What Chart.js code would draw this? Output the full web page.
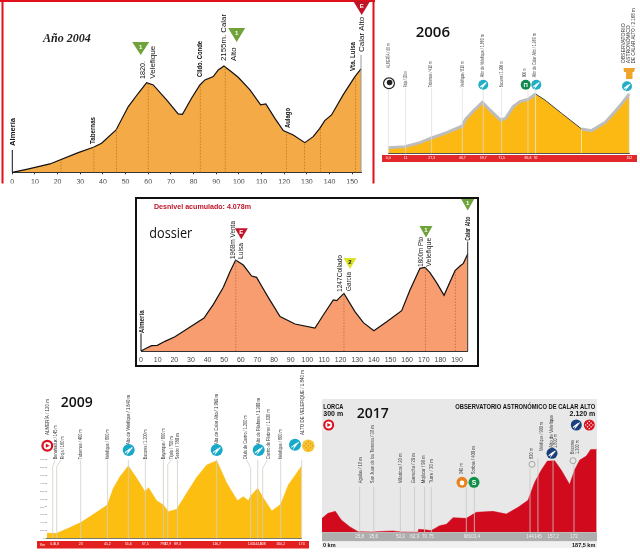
<!DOCTYPE html>
<html>
<head>
<meta charset="utf-8">
<title>Perfiles Calar Alto</title>
<script src="https://cdn.jsdelivr.net/npm/chart.js@4/dist/chart.umd.min.js"></script>
<style>
  html, body { margin: 0; padding: 0; background: #fff; }
  #page { position: relative; width: 640px; height: 554px; overflow: hidden; }
  #page canvas { position: absolute; left: 0; top: 0; }
</style>
</head>
<body>
<div id="page">
  <canvas id="c2004" width="640" height="554"></canvas>
  <canvas id="c2006" width="640" height="554"></canvas>
  <canvas id="cDossier" width="640" height="554"></canvas>
  <canvas id="c2009" width="640" height="554"></canvas>
  <canvas id="c2017" width="640" height="554"></canvas>
</div>
<script>
// profile values, km and metres
const km2004 = [0, 6.3, 16.6, 29.1, 35.8, 39.4, 45.8, 51.2, 55.6, 59.3, 62.2, 68.1, 73.2, 75.1, 79.1, 82.8, 85, 88.7, 90.9, 93.4, 96, 99.7, 104.9, 109.6, 111.9, 115.9, 119.6, 124, 129.1, 132.8, 135.7, 137.9, 140.9, 146, 151.2, 153.9];
const elev2004 = [0, 61, 170, 400, 509, 590, 861, 1336, 1607, 1824, 1776, 1471, 1187, 1180, 1505, 1776, 1878, 1946, 2081, 2163, 2068, 1932, 1675, 1370, 1390, 1098, 847, 759, 603, 725, 895, 1051, 1166, 1573, 1946, 2102];
const markKm2004 = [0, 21.5, 36, 46, 60, 83, 94, 121, 129, 136, 151.5, 153.9];
const markTop2004 = [454, 250, 510, 870, 1824, 1776, 2150, 800, 600, 900, 1950, 2386];

const km2006 = [0, 10.5, 20, 27.3, 36.8, 46.7, 48.7, 53.6, 59.3, 63, 70.8, 74, 78.8, 83, 88.3, 92.9, 98.8, 109.3, 121.9, 128.2, 136.6, 142.9, 148.2, 152];
const elev2006 = [204, 240, 384, 552, 744, 984, 1224, 1524, 1836, 1620, 1200, 1260, 1680, 1860, 1944, 2136, 1920, 1440, 876, 816, 1104, 1500, 1860, 2136];
const markKm2006 = [0, 10.9, 27.3, 46.7, 59.9, 71.5, 88.1, 92.9, 152];
const markTop2006 = [2340, 2340, 2340, 2340, 2340, 2340, 2340, 2340, 2160];
const markNames2006 = ["0,0", "11", "27,3", "46,7", "59,7", "71,5", "86,8", "92", "152"];

const kmDossier = [0, 3.4, 6.4, 9.8, 14.4, 20.4, 29.5, 37.9, 40.5, 43.5, 49.5, 53.5, 56.9, 61.5, 66.5, 69.5, 72.5, 76.5, 83.6, 92.6, 104.6, 109.6, 115.6, 117.6, 122, 128.6, 133.7, 140, 147.7, 156.7, 161.7, 167.7, 170.7, 173.7, 177.7, 182.2, 185.8, 188.8, 191.8, 193.8, 196.4];
const elevDossier = [0, 65, 115, 123, 209, 310, 519, 714, 851, 1009, 1377, 1716, 1968, 1860, 1622, 1593, 1406, 1161, 743, 584, 497, 779, 1103, 1089, 1247, 851, 613, 440, 634, 872, 1319, 1788, 1810, 1694, 1478, 1204, 1500, 1738, 1839, 1896, 2098];
const markKmDossier = [0, 57, 122, 171, 189, 196.4];
const markTopDossier = [382, 1960, 1247, 1810, 1738, 2365];

const km2009 = [0, 6.8, 14.8, 23.2, 33, 41.4, 45.5, 50, 55.7, 61.4, 67.1, 69.4, 75, 79.6, 83, 88.7, 95.5, 102.4, 109.2, 116, 122.9, 130.1, 134.2, 137.6, 139.2, 144, 147.9, 153.6, 159.7, 164.9, 174];
const elev2009 = [127, 127, 254, 399, 636, 848, 1272, 1569, 1840, 1526, 1187, 1289, 958, 848, 678, 738, 1145, 1552, 1866, 1976, 1399, 958, 1060, 958, 1077, 1272, 1018, 695, 865, 1357, 1840];
const markKm2009 = [4.1, 6.8, 23.2, 41.4, 55.7, 67.3, 79.6, 82.6, 89.2, 116, 139.2, 144, 147.4, 159.7, 174];
const markTop2009 = [1823, 1823, 2000, 2000, 2000, 2000, 2000, 1866, 2000, 2000, 1781, 2000, 1781, 2000, 2000];
const markNames2009 = ["0,0", "6,8", "23", "41,2", "55,6", "67,5", "79,7", "82,9", "89,3", "116,7", "140", "144,8", "148", "160,2", "174"];

const km2017 = [0, 4.1, 9.1, 13.2, 18.9, 24.6, 33.7, 42.8, 48.5, 54.1, 65.5, 66, 70, 74.6, 80.3, 84.9, 89.4, 98.5, 105.3, 116.7, 125.8, 133.8, 140.6, 145.1, 149.7, 153.8, 158.8, 163.3, 169, 172.4, 175.9, 180.4, 183.4, 187.5];
const elev2017 = [357, 485, 536, 315, 145, 17, 9, 26, 34, 9, 0, 77, 68, 43, 170, 204, 374, 357, 511, 536, 468, 638, 817, 1277, 1591, 1821, 1830, 1591, 1225, 1591, 1847, 1949, 2119, 2119];
const markKm2017 = [25.7, 35.3, 53.5, 63.2, 70, 74.6, 98.5, 104, 142, 147.4, 157.7, 172];
const markTop2017 = [1166, 1166, 1166, 1166, 1166, 1166, 1166, 1166, 1634, 1889, 1850, 1760];
const markNames2017 = ["25,8", "35,6", "53,3", "62,3", "70", "75", "98", "103,4", "144", "145", "157,2", "172"];

// rotated place names: text, x, bottom y, length on the page
const labels2004Bold = [
  ["Almería", 12.7, 146, 28], ["Tabernas", 92.5, 144, 27], ["Clldo. Conde", 199.3, 77, 36],
  ["Aulago", 288, 128, 20], ["Vta. Luisa", 353, 71, 29]
];
const labels2004 = [
  ["1820.", 142.7, 79, 18], ["Velefique", 152.7, 78.7, 35], ["2155m. Calar", 224, 61, 47],
  ["Alto", 234, 61, 14], ["Calar Alto", 362, 52, 38]
];
const labels2006 = [
  ["ALMERÍA / 60 m", 388.3, 68.3, 25], ["Rioja / 120 m", 405.7, 87.3, 16], ["Tabernas / 410 m", 431, 87.3, 26],
  ["Velefique / 810 m", 462.3, 87.3, 26], ["Alto de Velefique / 1.860 m", 482.3, 77.3, 43], ["Bacares / 1.200 m", 501.7, 87.3, 26],
  ["900 m", 524.3, 77.3, 9], ["Alto de Calar Alto / 1.960 m", 535, 77.3, 44]
];
const labels2006End = [
  ["OBSERVATORIO", 623.3, 63.3, 40], ["ASTRONÓMICO", 628.3, 63.3, 38], ["DE CALAR ALTO / 2.168 m", 633.3, 63.3, 55]
];
const labelsDossierBold = [["Almería", 142, 333.3, 23], ["Calar Alto", 468, 240.7, 24]];
const labelsDossier = [
  ["1968m Venta", 232.7, 259, 38], ["Luisa", 240.7, 259, 16], ["1247Collado", 340.3, 292, 37],
  ["García", 348.7, 291, 19], ["1800m Pto", 421, 266.7, 30], ["Velefique", 429, 266.7, 29]
];
const labels2009 = [
  ["ALMERÍA / 120 m", 47.3, 435, 36], ["Benahadux / 145 m", 56, 459.3, 34], ["Rioja / 160 m", 62.3, 459.3, 23],
  ["Tabernas / 400 m", 81, 459.3, 30], ["Velefique / 800 m", 107.7, 459.3, 30], ["Alto de Velefique / 1.840 m", 128.7, 445, 50],
  ["Bacares / 1.200 m", 145.3, 459.3, 30], ["Bayarque / 800 m", 163.3, 459.3, 31], ["Tíjola / 700 m", 171.3, 459.3, 23],
  ["Serón / 780 m", 177.3, 459.3, 26], ["Alto de Calar Alto / 1.960 m", 216.7, 445, 51], ["Olula de Castro / 1.200 m", 246, 459.3, 44],
  ["Alto de Filabres / 1.300 m", 258.7, 445, 47], ["Castro de Filabres / 1.020 m", 268.7, 459.3, 50], ["Velefique / 800 m", 280.7, 459.3, 30],
  ["ALTO DE VELEFIQUE / 1.840 m", 302.7, 435, 65]
];
const labels2017 = [
  ["Aguilas / 10 m", 360.3, 483.3, 26], ["San Juan de los Terreros / 30 m", 373, 483.3, 58], ["Villaricos / 20 m", 400.3, 483.3, 30],
  ["Garrucha / 20 m", 414, 483.3, 30], ["Mojácar / 90 m", 424, 483.3, 28], ["Turre / 30 m", 431.3, 483.3, 26],
  ["340 m", 462, 474.3, 11], ["Sorbas / 400 m", 474, 474.3, 28], ["820 m", 532, 459, 11],
  ["Velefique / 900 m", 542, 451, 29], ["Alto de Velefique", 551.3, 448, 33], ["1.800 m", 555.3, 448, 14],
  ["Bacares", 573, 454, 14], ["1.200 m", 577.3, 454, 14]
];

const NARROW = "'Liberation Sans Narrow', 'Liberation Sans', sans-serif";
const SANS = "'Liberation Sans', sans-serif";
const TITLE = "'Open Sans', sans-serif";

function upText(ctx, items, font, color) {
  ctx.font = font;
  ctx.fillStyle = color;
  ctx.textBaseline = "middle";
  ctx.textAlign = "left";
  items.forEach(function (l) {
    ctx.save();
    ctx.translate(l[1], l[2]);
    ctx.rotate(-Math.PI / 2);
    ctx.fillText(l[0], 0, 0, l[3]);
    ctx.restore();
  });
}

function flatText(ctx, text, x, y, font, color, align, maxWidth) {
  ctx.font = font;
  ctx.fillStyle = color;
  ctx.textAlign = align || "left";
  ctx.textBaseline = "alphabetic";
  if (maxWidth) ctx.fillText(text, x, y, maxWidth);
  else ctx.fillText(text, x, y);
}

function triangle(ctx, x, top, w, h, color, letter, letterColor) {
  ctx.fillStyle = color;
  ctx.beginPath();
  ctx.moveTo(x - w / 2, top);
  ctx.lineTo(x + w / 2, top);
  ctx.lineTo(x, top + h);
  ctx.closePath();
  ctx.fill();
  ctx.font = "bold 6px " + SANS;
  ctx.fillStyle = letterColor || "#fff";
  ctx.textAlign = "center";
  ctx.textBaseline = "middle";
  ctx.fillText(letter, x, top + h * 0.38);
}

function disc(ctx, x, y, r, color) {
  ctx.fillStyle = color;
  ctx.beginPath();
  ctx.arc(x, y, r, 0, Math.PI * 2);
  ctx.fill();
}

function climbIcon(ctx, x, y, r, color) {
  disc(ctx, x, y, r, color);
  ctx.strokeStyle = "#fff";
  ctx.lineWidth = 1.1;
  ctx.beginPath();
  ctx.moveTo(x - r * 0.6, y + r * 0.45);
  ctx.lineTo(x + r * 0.1, y - r * 0.1);
  ctx.lineTo(x - r * 0.1, y + r * 0.4);
  ctx.lineTo(x + r * 0.6, y - r * 0.45);
  ctx.stroke();
}

function startIcon(ctx, x, y, r, color) {
  disc(ctx, x, y, r, color);
  disc(ctx, x, y, r * 0.62, "#fff");
  ctx.fillStyle = color;
  ctx.beginPath();
  ctx.moveTo(x - r * 0.25, y - r * 0.35);
  ctx.lineTo(x + r * 0.4, y);
  ctx.lineTo(x - r * 0.25, y + r * 0.35);
  ctx.closePath();
  ctx.fill();
}

function checkerIcon(ctx, x, y, r, back, dot) {
  disc(ctx, x, y, r, back);
  ctx.fillStyle = dot;
  for (let i = -2; i <= 2; i++) {
    for (let j = -2; j <= 2; j++) {
      if ((i + j) % 2 === 0 && i * i + j * j < 6) {
        ctx.fillRect(x + i * r * 0.33 - 0.6, y + j * r * 0.33 - 0.6, 1.2, 1.2);
      }
    }
  }
}

// one line chart per profile, the canvases are stacked over the page
function profile(id, kms, elevs, cfg) {
  const area = cfg.area;
  const yWidth = cfg.yTicks ? 7 : 0;
  const axisH = cfg.axisH || 12;

  let xTicks = {
    font: cfg.tickFont,
    color: cfg.tickColor,
    padding: cfg.tickPadding === undefined ? 2 : cfg.tickPadding,
    autoSkip: false,
    maxRotation: 0,
    includeBounds: false
  };
  if (cfg.tickStep) xTicks.stepSize = cfg.tickStep;
  if (cfg.tickNames) xTicks.callback = (value, index) => cfg.tickNames[index];

  const plugin = {
    id: "profileExtras",
    beforeDraw(chart) {
      if (cfg.back) {
        chart.ctx.save();
        cfg.back(chart.ctx);
        chart.ctx.restore();
      }
    },
    afterDatasetsDraw(chart) {
      const ctx = chart.ctx;
      const x = chart.scales.x;
      const y = chart.scales.y;
      (cfg.markKm || []).forEach(function (km, i) {
        const px = x.getPixelForValue(km);
        const endLine = cfg.markSolid && cfg.markSolid[i];
        ctx.save();
        ctx.strokeStyle = endLine || cfg.markColor;
        ctx.lineWidth = cfg.markWidth || 1;
        if (cfg.markDash && !endLine) ctx.setLineDash(cfg.markDash);
        ctx.beginPath();
        ctx.moveTo(px, y.getPixelForValue(0));
        ctx.lineTo(px, y.getPixelForValue(cfg.markTop[i]));
        ctx.stroke();
        ctx.restore();
      });
      if (cfg.front) cfg.front(ctx);
    }
  };

  let datasetOpts = {
    data: kms.map((km, i) => ({ x: km, y: elevs[i] })),
    borderColor: cfg.line,
    borderWidth: cfg.lineWidth,
    backgroundColor: cfg.fill,
    fill: "start",
    tension: 0,
    pointRadius: 0,
    clip: false
  };
  if (cfg.segment) datasetOpts.segment = cfg.segment;

  return new Chart(document.getElementById(id), {
    type: "line",
    data: { datasets: [datasetOpts] },
    plugins: [plugin],
    options: {
      responsive: false,
      animation: false,
      events: [],
      layout: {
        padding: {
          left: area.left - yWidth,
          right: 640 - area.right,
          top: area.top,
          bottom: 554 - area.bottom - axisH
        }
      },
      plugins: { legend: { display: false }, tooltip: { enabled: false } },
      scales: {
        x: {
          type: "linear",
          min: 0,
          max: cfg.xMax,
          grid: {
            drawOnChartArea: false,
            tickLength: cfg.tickLen || 0,
            color: cfg.tickLen ? "#333" : "rgba(0,0,0,0)"
          },
          border: { display: !!cfg.axisLine, color: cfg.axisLine || "#000" },
          ticks: xTicks,
          afterBuildTicks: cfg.tickKm
            ? (s) => { s.ticks = cfg.tickKm.map((v) => ({ value: v })); }
            : undefined,
          afterFit: (s) => {
            s.height = axisH;
            s.paddingLeft = 0;
            s.paddingRight = 0;
          }
        },
        y: {
          display: !!cfg.yTicks,
          min: 0,
          max: cfg.yMax,
          grid: { drawOnChartArea: false, tickLength: 2, color: "#bbb" },
          border: { display: false },
          ticks: { stepSize: 200, font: { size: 2.5, family: SANS }, color: "#777", padding: 0.5 },
          afterFit: (s) => { s.width = yWidth; }
        }
      }
    }
  });
}

// Año 2004
profile("c2004", km2004, elev2004, {
  area: { left: 12.3, right: 361, top: 64.1, bottom: 172.3 },
  xMax: 153.9, yMax: 2200,
  fill: "#F5AA48", line: "#111", lineWidth: 1.2,
  tickStep: 10, tickFont: { size: 7, family: SANS }, tickColor: "#444", tickPadding: 4, tickLen: 2, axisLine: "#333",
  markKm: markKm2004, markTop: markTop2004, markColor: "#C47F28", markDash: [1.5, 1.5],
  markSolid: { 0: "#111", 11: "#999" },
  front(ctx) {
    ctx.fillStyle = "#fff";
    ctx.fillRect(0, 183.5, 375, 6);
    ctx.fillStyle = "#E00F1A";
    ctx.fillRect(0, 0, 375, 2);
    ctx.fillRect(1.5, 0, 2, 183.5);
    ctx.fillRect(372.5, 0, 2, 183.5);
    upText(ctx, labels2004Bold, "bold 8px " + NARROW, "#111");
    upText(ctx, labels2004, "8px " + SANS, "#111");
    flatText(ctx, "Año 2004", 43, 42, "italic bold 12px 'Liberation Serif', serif", "#222", "left", 52);
    triangle(ctx, 140.7, 42, 17, 13, "#6FA23A", "1");
    triangle(ctx, 236.7, 28, 17, 14, "#6FA23A", "1");
    triangle(ctx, 361.7, 1, 17, 14, "#C01428", "E");
  }
});

// 2006
profile("c2006", km2006, elev2006, {
  area: { left: 388.3, right: 629.3, top: 92.2, bottom: 153.3 },
  xMax: 152, yMax: 2200,
  fill: "#FDB913", line: "#BDBDBD", lineWidth: 3,
  segment: {
    borderColor: (c) => (c.p0.parsed.x >= 92.9 && c.p0.parsed.x < 121.9 ? "#444" : undefined),
    borderWidth: (c) => (c.p0.parsed.x >= 92.9 && c.p0.parsed.x < 121.9 ? 1 : undefined)
  },
  tickKm: markKm2006, tickNames: markNames2006,
  tickFont: { size: 3.5, family: SANS }, tickColor: "#fff", tickPadding: 3, axisH: 9,
  axisLine: "#555",
  markKm: markKm2006, markTop: markTop2006, markColor: "#dcdcdc", markWidth: 0.7,
  back(ctx) {
    ctx.fillStyle = "#E2282A";
    ctx.fillRect(382, 155, 255, 7);
  },
  front(ctx) {
    upText(ctx, labels2006, "4.5px " + SANS, "#444");
    upText(ctx, labels2006End, "5.5px " + SANS, "#333");
    flatText(ctx, "2006", 415.7, 37, "600 15px " + TITLE, "#111");
    disc(ctx, 389, 83.3, 6, "#222");
    disc(ctx, 389, 83.3, 4.8, "#fff");
    disc(ctx, 389.6, 82.5, 2.8, "#222");
    climbIcon(ctx, 483.3, 84.7, 5, "#22AEC6");
    disc(ctx, 525.7, 84.7, 5, "#0E8A4F");
    flatText(ctx, "П", 525.7, 87, "bold 6px " + SANS, "#fff", "center");
    climbIcon(ctx, 536.3, 84.7, 5, "#22AEC6");
    climbIcon(ctx, 627, 86.3, 5, "#22AEC6");
    ctx.fillStyle = "#EFA52B";
    ctx.beginPath();
    ctx.moveTo(623.5, 68); ctx.lineTo(635, 68); ctx.lineTo(634, 72);
    ctx.lineTo(632.5, 72); ctx.lineTo(632.5, 79); ctx.lineTo(626, 79);
    ctx.lineTo(626, 72); ctx.lineTo(624, 72);
    ctx.closePath();
    ctx.fill();
  }
});

// dossier
profile("cDossier", kmDossier, elevDossier, {
  area: { left: 141, right: 467.7, top: 249.3, bottom: 351 },
  xMax: 196.4, yMax: 2200,
  fill: "#F89D6F", line: "#111", lineWidth: 1.2,
  tickStep: 10, tickFont: { size: 7, family: SANS }, tickColor: "#444", tickPadding: 5, axisLine: "#333",
  markKm: markKmDossier, markTop: markTopDossier, markColor: "#C8734A", markDash: [1.5, 1.5],
  markSolid: { 0: "#111", 5: "#333" },
  back(ctx) {
    ctx.strokeStyle = "#111";
    ctx.lineWidth = 2;
    ctx.strokeRect(136, 198, 342, 168);
  },
  front(ctx) {
    upText(ctx, labelsDossierBold, "bold 7.5px " + NARROW, "#222");
    upText(ctx, labelsDossier, "7.5px " + SANS, "#222");
    flatText(ctx, "Desnivel acumulado: 4.078m", 154, 209, "bold 7.5px " + SANS, "#C01428", "left", 97);
    flatText(ctx, "dossier", 149.3, 238, "14px " + TITLE, "#111", "left", 43);
    triangle(ctx, 241.3, 228.3, 13, 11, "#C01428", "E");
    triangle(ctx, 350, 258, 13, 11, "#DDE22A", "2", "#111");
    triangle(ctx, 426, 226, 13, 11.5, "#6FA23A", "1");
    triangle(ctx, 467.7, 199, 13, 11.5, "#6FA23A", "1");
  }
});

// 2009
profile("c2009", km2009, elev2009, {
  area: { left: 46.7, right: 301.7, top: 459.7, bottom: 538.3 },
  xMax: 174, yMax: 2000, yTicks: true,
  fill: "#FDBE12", line: "#F7B500", lineWidth: 0.5,
  tickKm: markKm2009, tickNames: markNames2009,
  tickFont: { size: 3.5, family: SANS }, tickColor: "#fff", tickPadding: 4, axisH: 10,
  axisLine: "#777",
  markKm: markKm2009, markTop: markTop2009, markColor: "#cfcfc8", markWidth: 0.8,
  back(ctx) {
    ctx.fillStyle = "#E2201F";
    ctx.fillRect(37, 541, 272, 7.5);
  },
  front(ctx) {
    flatText(ctx, "Km", 40, 546, "3.5px " + SANS, "#fff");
    ctx.strokeStyle = "#cfcfc8";
    ctx.lineWidth = 0.8;
    [[52.7, 466.7, 55, 460], [56.7, 466.7, 61, 460], [167.7, 465, 171, 460], [250.7, 468.3, 246.7, 460], [262.7, 468.3, 267.3, 460]].forEach(function (s) {
      ctx.beginPath();
      ctx.moveTo(s[0], s[1]);
      ctx.lineTo(s[2], s[3]);
      ctx.stroke();
    });
    upText(ctx, labels2009, "4.5px " + SANS, "#333");
    flatText(ctx, "2009", 60.7, 406.7, "600 14px " + TITLE, "#111");
    startIcon(ctx, 47.3, 445.7, 6, "#D8121F");
    climbIcon(ctx, 128.7, 450, 6, "#18A9C8");
    climbIcon(ctx, 216.7, 450, 6, "#18A9C8");
    climbIcon(ctx, 258.7, 450, 6, "#18A9C8");
    climbIcon(ctx, 295, 444.7, 6, "#18A9C8");
    checkerIcon(ctx, 308.3, 445.7, 6.3, "#F7C531", "#E08A1E");
  }
});

// 2017
profile("c2017", km2017, elev2017, {
  area: { left: 322, right: 596.7, top: 446.3, bottom: 532.3 },
  xMax: 187.5, yMax: 2200,
  fill: "#D20A1E", line: "#D20A1E", lineWidth: 0.5,
  tickKm: markKm2017, tickNames: markNames2017,
  tickFont: { size: 4.5, family: NARROW }, tickColor: "#f2f2f2", tickPadding: 2, axisH: 10,
  markKm: markKm2017, markTop: markTop2017, markColor: "#c8c8c8", markWidth: 0.8,
  back(ctx) {
    ctx.fillStyle = "#E8E8E8";
    ctx.fillRect(322, 399, 275, 149);
    ctx.fillStyle = "#AEAEAE";
    ctx.fillRect(322, 532.3, 275, 9);
    ctx.fillStyle = "#F0F0F0";
    ctx.fillRect(322, 541.3, 275, 6.7);
  },
  front(ctx) {
    upText(ctx, labels2017, "4.5px " + SANS, "#444");
    flatText(ctx, "LORCA", 323.3, 409, "bold 7px " + NARROW, "#111", "left", 20);
    flatText(ctx, "300 m", 323.3, 416.3, "bold 7px " + NARROW, "#111", "left", 20);
    flatText(ctx, "OBSERVATORIO ASTRONÓMICO DE CALAR ALTO", 595.3, 409, "bold 7px " + NARROW, "#111", "right", 140);
    flatText(ctx, "2.120 m", 595.3, 416.3, "bold 7px " + NARROW, "#111", "right", 26);
    flatText(ctx, "2017", 356.7, 417.7, "600 14px " + TITLE, "#111");
    flatText(ctx, "0 km", 323, 547, "bold 5.5px " + NARROW, "#111");
    flatText(ctx, "187,5 km", 595.3, 547, "bold 5.5px " + NARROW, "#111", "right");
    startIcon(ctx, 328.7, 425, 5.5, "#D8121F");
    disc(ctx, 462, 482.3, 5.5, "#E8821E");
    disc(ctx, 462, 483, 2.4, "#fff");
    disc(ctx, 474, 482.3, 5.5, "#12904A");
    flatText(ctx, "S", 474, 485, "bold 7px " + SANS, "#fff", "center");
    climbIcon(ctx, 552, 453.3, 5.5, "#1B3F7C");
    climbIcon(ctx, 576.3, 425, 5.5, "#1B3F7C");
    checkerIcon(ctx, 589.3, 425, 5.5, "#D8121F", "#fff");
    [[532, 464.3], [573, 460.7]].forEach(function (c) {
      ctx.strokeStyle = "#888";
      ctx.lineWidth = 0.7;
      ctx.beginPath();
      ctx.arc(c[0], c[1], 3, 0, Math.PI * 2);
      ctx.stroke();
    });
  }
});
</script>
</body>
</html>
